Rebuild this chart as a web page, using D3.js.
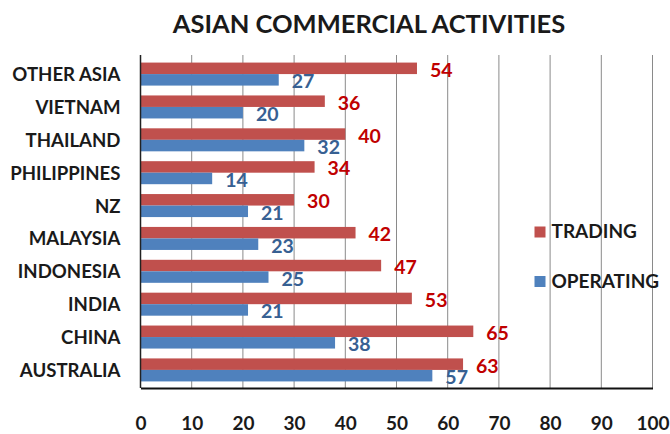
<!DOCTYPE html>
<html>
<head>
<meta charset="utf-8">
<script src="https://cdn.jsdelivr.net/npm/d3@7"></script>
<style>
  html, body { margin: 0; padding: 0; background: #fff; }
  svg { display: block; }
  text { font-family: Lato, "Open Sans", sans-serif; font-weight: bold; }
</style>
</head>
<body>
<svg id="chart" width="670" height="434"></svg>
<script>
// Categories listed top to bottom
const categories = ["OTHER ASIA", "VIETNAM", "THAILAND", "PHILIPPINES", "NZ",
                    "MALAYSIA", "INDONESIA", "INDIA", "CHINA", "AUSTRALIA"];
const trading   = [54, 36, 40, 34, 30, 42, 47, 53, 65, 63];
const operating = [27, 20, 32, 14, 21, 23, 25, 21, 38, 57];
const seriesNames = ["TRADING", "OPERATING"];
const xTicks = [0, 10, 20, 30, 40, 50, 60, 70, 80, 90, 100];

const colors = { TRADING: "#C0504D", OPERATING: "#4F81BD" };
const labelColors = { TRADING: "#C00000", OPERATING: "#376092" };

const svg = d3.select("#chart");
const margin = { top: 55, left: 140.5, right: 17.5, bottom: 46 };
const W = 670, H = 434;
const plotW = W - margin.left - margin.right;
const plotH = H - margin.top - margin.bottom;

const x = d3.scaleLinear().domain([0, 100]).range([0, plotW]);
const y = d3.scaleBand().domain(categories).range([1, plotH])
  .paddingInner(0.3).paddingOuter(0.2);
const ySub = d3.scaleBand().domain(seriesNames).range([0, y.bandwidth()]);

// Title
svg.append("text")
  .attr("x", 369).attr("y", 33)
  .attr("text-anchor", "middle")
  .attr("font-size", 25.5)
  .attr("fill", "#1a1a1a")
  .text("ASIAN COMMERCIAL ACTIVITIES");

const g = svg.append("g").attr("transform", `translate(${margin.left},${margin.top})`);

// Vertical gridlines
g.append("g").selectAll("line")
  .data(xTicks.slice(1))
  .join("line")
  .attr("x1", d => x(d)).attr("x2", d => x(d))
  .attr("y1", 0).attr("y2", plotH)
  .attr("stroke", "#8a8a8a").attr("stroke-width", 1);

// Bars
const rows = categories.map((c, i) => ({ cat: c, values: [
  { key: "TRADING", value: trading[i] },
  { key: "OPERATING", value: operating[i] }
]}));

const rowG = g.selectAll("g.row").data(rows).join("g")
  .attr("class", "row")
  .attr("transform", d => `translate(0,${y(d.cat)})`);

rowG.selectAll("rect").data(d => d.values).join("rect")
  .attr("x", 0)
  .attr("y", d => ySub(d.key))
  .attr("width", d => x(d.value))
  .attr("height", ySub.bandwidth())
  .attr("fill", d => colors[d.key]);

// Value labels
rowG.selectAll("text.val").data(d => d.values).join("text")
  .attr("class", "val")
  .attr("x", d => x(d.value) + 13)
  .attr("y", d => ySub(d.key) + ySub.bandwidth() / 2 + 1)
  .attr("dominant-baseline", "central")
  .attr("font-size", 19.5)
  .attr("fill", d => labelColors[d.key])
  .text(d => d.value);

// Left axis line
g.append("line")
  .attr("x1", 0).attr("x2", 0).attr("y1", 0).attr("y2", plotH)
  .attr("stroke", "#222").attr("stroke-width", 1.5);

// Bottom axis
const xAxis = g.append("g")
  .attr("transform", `translate(0,${plotH})`)
  .call(d3.axisBottom(x).tickValues(xTicks).tickSize(0).tickPadding(29));
xAxis.select(".domain").attr("stroke", "#111").attr("stroke-width", 2);
xAxis.selectAll("text")
  .attr("font-size", 19)
  .attr("fill", "#1a1a1a")
  .style("font-family", "Lato, 'Open Sans', sans-serif")
  .style("font-weight", "bold");

// Category labels
g.append("g").selectAll("text")
  .data(categories)
  .join("text")
  .attr("x", -20)
  .attr("y", d => y(d) + y.bandwidth() / 2)
  .attr("text-anchor", "end")
  .attr("dominant-baseline", "central")
  .attr("font-size", 18.6)
  .attr("fill", "#1a1a1a")
  .text(d => d);

// Legend
const legend = svg.append("g").attr("transform", "translate(534.5,226.5)");
seriesNames.forEach((s, i) => {
  const lg = legend.append("g").attr("transform", `translate(0,${i * 49.5})`);
  lg.append("rect").attr("x", 0).attr("y", 0).attr("width", 11).attr("height", 11)
    .attr("fill", colors[s]);
  lg.append("text").attr("x", 17).attr("y", 4)
    .attr("dominant-baseline", "central")
    .attr("font-size", 19)
    .attr("fill", "#1a1a1a")
    .text(s);
});
</script>
</body>
</html>
